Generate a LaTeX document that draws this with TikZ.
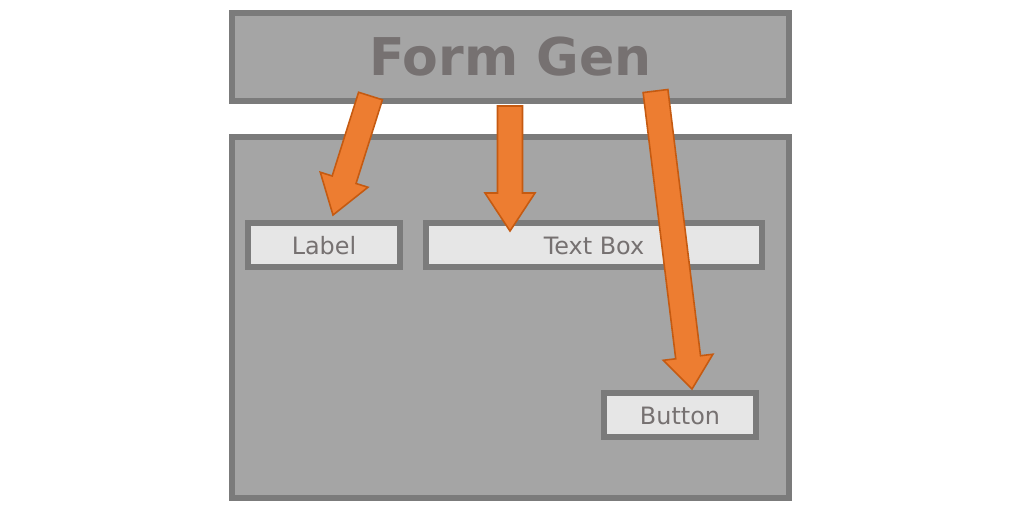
\documentclass[tikz,border=0pt]{standalone}
\usepackage{fontspec}
\setmainfont{DejaVu Sans}
\usepackage{tikz}
\usetikzlibrary{positioning,calc}
\definecolor{cPanel}{HTML}{A5A5A5}
\definecolor{cEdge}{HTML}{7B7B7B}
\definecolor{cCtrl}{HTML}{E6E6E6}
\definecolor{cText}{HTML}{767171}
\definecolor{cArrow}{HTML}{ED7D31}
\definecolor{cArrowLine}{HTML}{C55A11}
\tikzset{
  panel/.style={draw=cEdge,fill=cPanel,line width=0.58mm,text=cText,inner sep=0pt},
  ctrl/.style={draw=cEdge,fill=cCtrl,line width=0.52mm,text=cText,minimum height=4.4mm,inner sep=0pt,text height=1.9mm,text depth=0pt,font=\fontsize{6.8}{8}\selectfont},
  fat/.style={fill=cArrow,draw=cArrowLine,line width=0.45pt,line join=miter}}
\newcommand\fatarrow[3]{%
  \coordinate (hb) at ($(#2)!#3!(#1)$);
  \draw[fat] ($(#1)!1.25mm!90:(#2)$) -- ($(hb)!1.25mm!90:(#2)$) -- ($(hb)!2.5mm!90:(#2)$) -- (#2)
    -- ($(hb)!2.5mm!-90:(#2)$) -- ($(hb)!1.25mm!-90:(#2)$) -- ($(#1)!1.25mm!-90:(#2)$) -- cycle;}
\begin{document}
\begin{tikzpicture}[x=0.1mm,y=-0.1mm]
\useasboundingbox (0,0) rectangle (1024,512);
\node[panel, minimum width=55.7mm, minimum height=8.8mm, font=\fontsize{14.8}{16}\selectfont\bfseries] (gen) at (510.5,57) {Form Gen};
\node[panel, minimum width=55.7mm, minimum height=36.1mm] (form) at (510.5,317.5) {};
\node[ctrl, minimum width=15.2mm] (lbl) at (324,245) {Label};
\node[ctrl, minimum width=33.6mm] (txt) at (594,245) {Text Box};
\node[ctrl, minimum width=15.2mm] (btn) at (680,415) {Button};
\coordinate (s1) at (370.5,96); \coordinate (t1) at (333,215);
\coordinate (s2) at (510,106);  \coordinate (t2) at (510,231);
\coordinate (s3) at (655.5,91); \coordinate (t3) at (692,389);
\fatarrow{s1}{t1}{3.7mm}
\fatarrow{s2}{t2}{3.8mm}
\fatarrow{s3}{t3}{3.2mm}
\end{tikzpicture}
\end{document}
